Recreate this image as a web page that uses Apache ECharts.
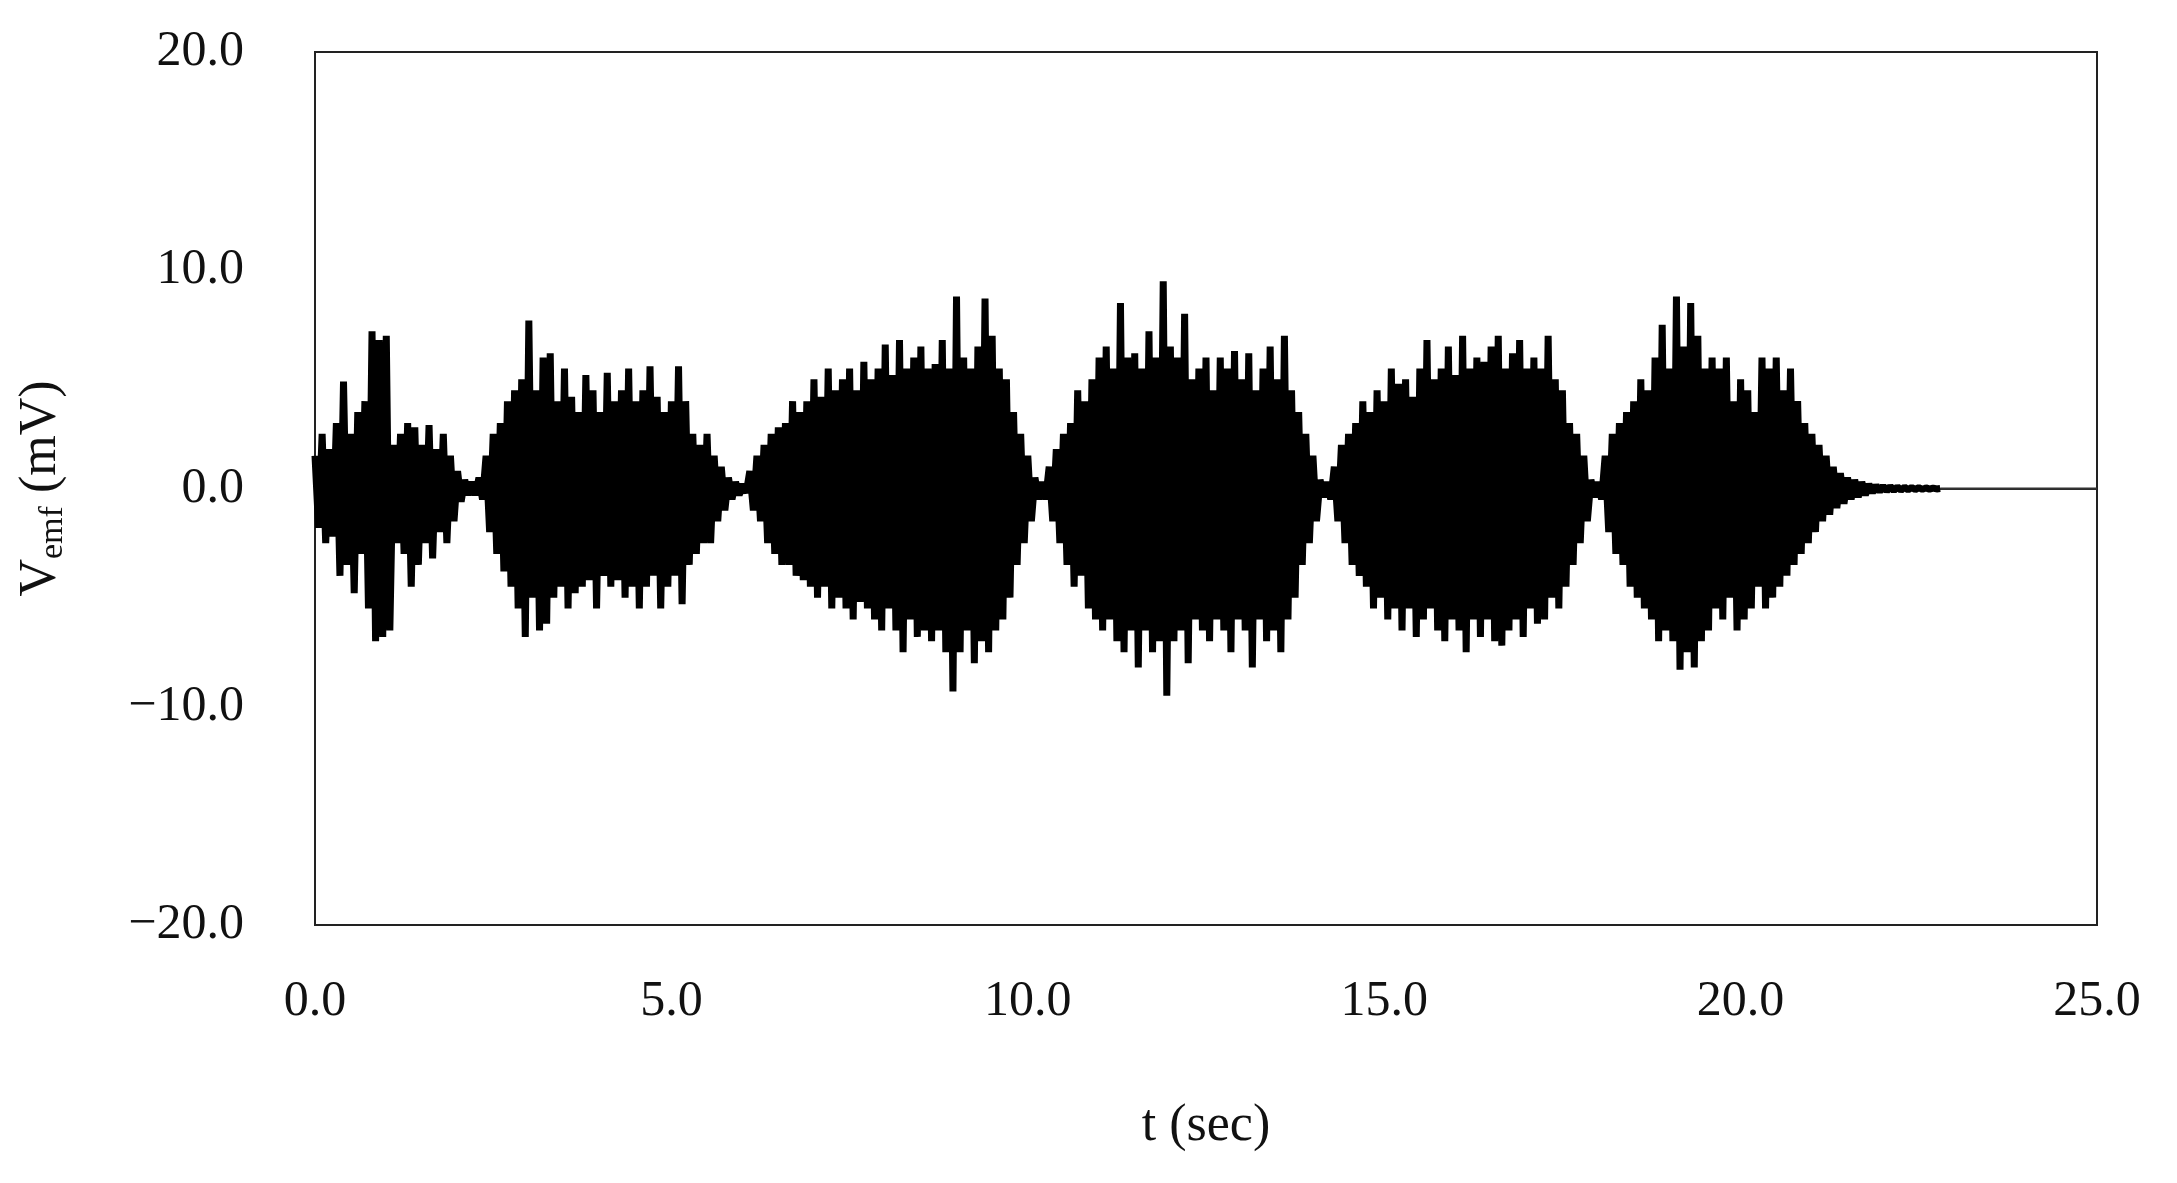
<!DOCTYPE html>
<html>
<head>
<meta charset="utf-8">
<script src="https://cdn.jsdelivr.net/npm/echarts@6/dist/echarts.min.js"></script>
<style>html,body{margin:0;padding:0;background:#fff}#chart{width:2177px;height:1183px}</style>
</head>
<body>
<div id="chart"></div>
<script>
// peak values, one upper and one lower peak every 0.1 s
// each burst: start time (s), upper peaks, lower peaks
const burst1Start = 0.0;
const burst1Up = [1.5,2.5,1.8,3.0,4.9,2.5,3.5,4.0,7.2,6.8,7.0,2.0,2.5,3.0,2.8,2.0,2.9,1.8,2.5,1.5,0.8,0.4,0.3,0.5];
const burst1Low = [-1.8,-2.5,-2.2,-4.0,-3.5,-4.8,-3.0,-5.5,-7.0,-6.8,-6.5,-2.5,-3.0,-4.5,-3.5,-2.5,-3.2,-2.0,-2.5,-1.5,-0.6,-0.3,-0.3,-0.5];

const burst2Start = 2.4;
const burst2Up = [1.5,2.5,3.0,4.0,4.5,5.0,7.7,4.5,6.0,6.2,4.0,5.5,4.2,3.5,5.2,4.5,3.5,5.3,4.0,4.5,5.5,4.0,4.5,5.6,4.2,3.5,4.0,5.6,4.0,2.5,2.0,2.5,1.5,1.0,0.5,0.3,0.2];
const burst2Low = [-2.0,-3.0,-3.8,-4.5,-5.5,-6.8,-5.0,-6.5,-6.2,-5.0,-4.5,-5.5,-4.8,-4.5,-4.2,-5.5,-4.0,-4.5,-4.2,-5.0,-4.5,-5.5,-4.5,-4.0,-5.5,-4.5,-4.0,-5.3,-3.5,-3.0,-2.5,-2.5,-1.5,-1.0,-0.5,-0.3,-0.2];

const burst3Start = 6.1;
const burst3Up = [0.8,1.5,2.0,2.5,2.8,3.0,4.0,3.5,4.0,5.0,4.2,5.5,4.5,5.0,5.5,4.5,5.8,5.0,5.5,6.6,5.2,6.8,5.5,6.0,6.5,5.5,5.7,6.8,5.5,8.8,6.0,5.5,6.5,8.7,7.0,5.5,5.0,3.5,2.5,1.5,0.5];
const burst3Low = [-1.0,-1.5,-2.5,-3.0,-3.5,-3.5,-4.0,-4.2,-4.5,-5.0,-4.5,-5.5,-5.0,-5.5,-6.0,-5.2,-5.5,-6.0,-6.5,-5.5,-6.5,-7.5,-6.0,-6.8,-6.5,-7.0,-6.5,-7.5,-9.3,-7.5,-6.5,-8.0,-7.0,-7.5,-6.5,-6.0,-5.0,-3.5,-2.5,-1.5,-0.5];

const burst4Start = 10.2;
const burst4Up = [0.3,1.0,1.8,2.5,3.0,4.5,4.0,5.0,6.0,6.5,5.5,8.5,6.0,6.2,5.5,7.2,6.0,9.5,6.5,6.0,8.0,5.0,5.5,6.0,4.5,6.0,5.5,6.3,5.0,6.2,4.5,5.5,6.5,5.0,7.0,4.5,3.5,2.5,1.5,0.4];
const burst4Low = [-0.5,-1.5,-2.5,-3.5,-4.5,-4.0,-5.5,-6.0,-6.5,-6.0,-7.0,-7.5,-6.5,-8.2,-6.5,-7.5,-7.0,-9.5,-7.0,-6.5,-8.0,-6.0,-6.5,-7.0,-6.0,-6.5,-7.5,-6.0,-6.5,-8.2,-6.0,-7.0,-6.5,-7.5,-6.0,-5.0,-3.5,-2.5,-1.5,-0.4];

const burst5Start = 14.2;
const burst5Up = [0.3,1.0,2.0,2.5,3.0,4.0,3.5,4.5,4.0,5.5,4.8,5.0,4.2,5.5,6.8,5.0,5.5,6.5,5.2,7.0,5.5,6.0,5.8,6.5,7.0,5.5,6.2,6.8,5.5,6.0,5.5,7.0,5.0,4.5,3.0,2.5,1.5,0.4];
const burst5Low = [-0.5,-1.5,-2.5,-3.5,-4.0,-4.5,-5.5,-5.0,-6.0,-5.5,-6.5,-5.5,-6.8,-6.0,-5.5,-6.5,-7.0,-6.0,-6.5,-7.5,-6.0,-6.8,-6.0,-7.0,-7.2,-6.5,-6.0,-6.8,-5.5,-6.2,-6.0,-5.0,-5.5,-4.5,-3.5,-2.5,-1.5,-0.4];

const burst6Start = 18.0;
const burst6Up = [0.3,1.5,2.5,3.0,3.5,4.0,5.0,4.5,6.0,7.5,5.5,8.8,6.5,8.5,7.0,5.5,6.0,5.5,6.0,4.0,5.0,4.5,3.5,6.0,5.5,6.0,4.5,5.5,4.0,3.0,2.5,2.0,1.5,1.0,0.7,0.5,0.4,0.3,0.2,0.15,0.12,0.1,0.08,0.06,0.05,0.04,0.03,0.02];
const burst6Low = [-0.5,-2.0,-3.0,-3.5,-4.5,-5.0,-5.5,-6.0,-7.0,-6.5,-7.0,-8.3,-7.5,-8.2,-7.0,-6.5,-5.5,-6.0,-5.0,-6.5,-6.0,-5.5,-4.5,-5.5,-5.0,-4.5,-4.0,-3.5,-3.0,-2.5,-2.0,-1.5,-1.2,-0.9,-0.7,-0.5,-0.4,-0.3,-0.2,-0.15,-0.12,-0.1,-0.08,-0.06,-0.05,-0.04,-0.03,-0.02];

// signal at rest after the last burst
const restStart = 22.8;
const tEnd = 25.0;

const bursts = [
  [burst1Start, burst1Up, burst1Low],
  [burst2Start, burst2Up, burst2Low],
  [burst3Start, burst3Up, burst3Low],
  [burst4Start, burst4Up, burst4Low],
  [burst5Start, burst5Up, burst5Low],
  [burst6Start, burst6Up, burst6Low]
];

let signal = [];
let lastT = 0;
bursts.forEach(function (b) {
  let t0 = b[0];
  b[1].forEach(function (v, i) {
    let t = +(t0 + i * 0.1).toFixed(3);
    if (t < lastT) return;
    signal.push([t, v]);
    signal.push([+(t + 0.05).toFixed(3), b[2][i]]);
    lastT = t + 0.05;
  });
});
signal.push([restStart, 0]);
let rest = [[restStart, 0], [tEnd, 0]];

const fontFam = '"Liberation Serif", "DejaVu Serif", serif';
const fmt = function (v) {
  return (v < 0 ? '\u2212' : '') + Math.abs(v).toFixed(1);
};

let myChart = echarts.init(document.getElementById('chart'));
let option = {
  backgroundColor: '#fff',
  animation: false,
  grid: {
    left: 315, right: 80, top: 52, bottom: 258,
    show: true, borderColor: '#222', borderWidth: 2
  },
  xAxis: {
    type: 'value', min: 0, max: 25, interval: 5,
    name: 't (sec)', nameLocation: 'middle', nameGap: 175,
    nameTextStyle: { fontFamily: fontFam, fontSize: 52, color: '#111' },
    axisLine: { show: true, lineStyle: { color: '#222', width: 2 } },
    axisTick: { show: false },
    splitLine: { show: false },
    axisLabel: { formatter: fmt, margin: 52, fontFamily: fontFam, fontSize: 50, color: '#111' }
  },
  yAxis: {
    type: 'value', min: -20, max: 20, interval: 10,
    name: '{v|V}{s|emf}{v| (mV)}', nameLocation: 'middle', nameGap: 245,
    nameTextStyle: {
      rich: {
        v: { fontFamily: fontFam, fontSize: 52, color: '#111' },
        s: { fontFamily: fontFam, fontSize: 34, color: '#111', verticalAlign: 'bottom', padding: [24, 0, 0, 0] }
      }
    },
    axisLine: { show: true, lineStyle: { color: '#222', width: 2 } },
    axisTick: { show: false },
    splitLine: { show: false },
    axisLabel: { formatter: fmt, margin: 71, fontFamily: fontFam, fontSize: 50, color: '#111' }
  },
  series: [{
    type: 'line',
    data: signal,
    showSymbol: false,
    lineStyle: { color: '#000', width: 7 },
    clip: true
  }, {
    type: 'line',
    data: rest,
    showSymbol: false,
    lineStyle: { color: '#333', width: 2 }
  }]
};
myChart.setOption(option);
</script>
</body>
</html>
